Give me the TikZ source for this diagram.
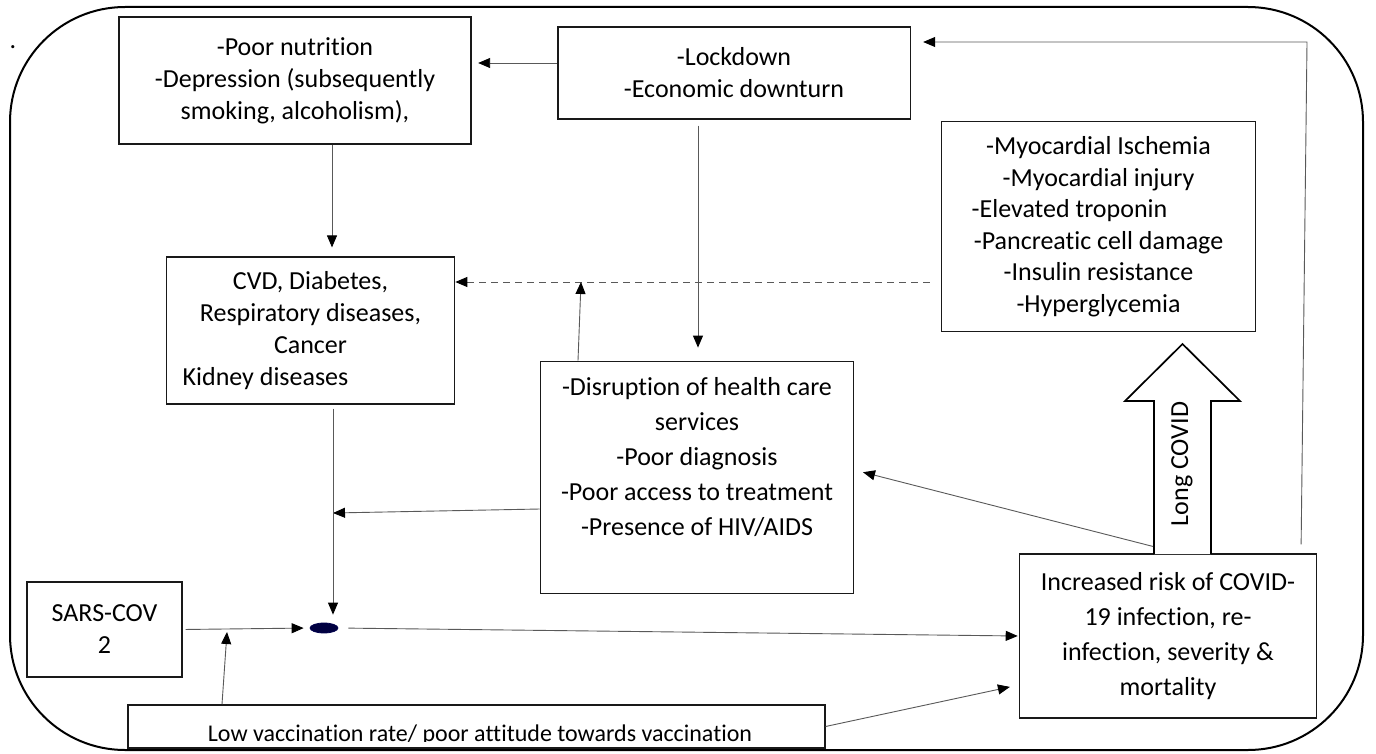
\documentclass[tikz,border=0pt]{standalone}
\usepackage{fontspec}
\setmainfont{Carlito}[Ligatures=NoCommon]
\usetikzlibrary{arrows.meta,shapes.geometric,calc}
\begin{document}
\begin{tikzpicture}[x=1bp,y=-1bp,
  box/.style={draw=black!90, line width=1.7bp, inner sep=0pt, align=center},
  txt/.style={align=center, inner sep=0pt},
  conn/.style={draw=black!65, line width=0.9bp, -{Triangle[length=12bp,width=10bp,black]}},
  fs/.style={font=\fontsize{26bp}{#1}\selectfont},
]
\useasboundingbox (0,0) rectangle (1376,753);
\fill[white] (0,0) rectangle (1376,753);
% outer frame
\draw[line width=2bp, rounded corners=115bp] (10,7) rectangle (1363,750);
\node[fs=32bp, anchor=base, inner sep=0pt] (mark) at (13,49) {.};

% boxes
\node[box, fs=32bp, minimum width=354, minimum height=127] (nut) at (295,80.5)
  {-Poor nutrition\\-Depression (subsequently\\smoking, alcoholism),};
\node[box, fs=32bp, minimum width=354, minimum height=92] (lock) at (734,73)
  {-Lockdown\\-Economic downturn};
\node[box, fs=31.5bp, minimum width=315, minimum height=211] (myo) at (1098.5,226.5)
  {-Myocardial Ischemia\\-Myocardial injury\\-Elevated troponin\rule{58bp}{0pt}\\-Pancreatic cell damage\\-Insulin resistance\\-Hyperglycemia};
\node[box, fs=32bp, minimum width=289, minimum height=147] (cvd) at (310.5,330.5)
  {CVD, Diabetes,\\Respiratory diseases,\\Cancer\\Kidney diseases\rule{90bp}{0pt}};
\node[box, minimum width=314, minimum height=233] (dis) at (697,477.5) {};
\node[txt, fs=35bp] (distext) at (697,457)
  {-Disruption of health care\\services\\-Poor diagnosis\\-Poor access to treatment\\-Presence of HIV/AIDS};
\node[box, fs=32bp, minimum width=155, minimum height=95] (sars) at (104.5,629.5)
  {SARS-COV\\2};
\node[box, minimum width=699, minimum height=43] (vac) at (476.5,726.5) {};
\begin{scope}
  \clip (127,705) rectangle (826,741);
  \node[txt, font=\fontsize{24bp}{32bp}\selectfont, anchor=base] (vactext) at (480,741)
    {Low vaccination rate/ poor attitude towards vaccination};
\end{scope}
\node[box, fs=35bp, minimum width=298, minimum height=164] (inc) at (1168,636)
  {Increased risk of COVID-\\19 infection, re-\\infection, severity \&\\mortality};
\node[ellipse, draw=blue!30!black, fill=blue!25!black, line width=0.8bp,
      minimum width=28, minimum height=10, inner sep=0pt] (dot) at (324,628) {};

% Long COVID hollow arrow
\draw[line width=1.7bp, fill=white, line join=miter]
  (1154,554) -- (1154,401) -- (1125,401) -- (1182.5,344) -- (1240,401) -- (1211,401) -- (1211,554);
\node[txt, fs=32bp, rotate=90] (long) at (1182,464) {Long COVID};

% helper coordinates
\coordinate (dj) at (581,282);
\coordinate (vj) at (333,513);
\coordinate (vu) at (227,632);
\coordinate (lc) at (1307,42);

% connectors
\draw[conn, shorten >=6bp] ([yshift=10bp]lock.west) -- ([yshift=10bp]lock.west -| nut.east);
\draw[conn, shorten <=6bp, shorten >=13bp] ([xshift=-36bp]lock.south) -- ([xshift=-36bp]lock.south |- dis.north);
\draw[conn, shorten >=9bp] ([xshift=37bp]nut.south) -- ([xshift=37bp]nut.south |- cvd.north);
\draw[conn, dashed, dash pattern=on 7bp off 5bp, shorten <=11bp] ([yshift=-55.5bp]myo.west) -- ([yshift=-55.5bp]myo.west -| cvd.east);
\draw[conn] ([xshift=-119bp]dis.north) -- (dj);
\draw[conn] ([yshift=-31.5bp]dis.west) -- (vj);
\draw[conn, shorten <=4bp, shorten >=8bp] ([xshift=22.5bp]cvd.south) -- ([xshift=22.5bp]cvd.south |- dot.north);
\draw[conn, shorten <=3bp, shorten >=6bp] (sars.east) -- (dot.west);
\draw[conn] ([xshift=-254.5bp]vac.north) -- (vu);
\draw[conn, shorten <=10bp, shorten >=1bp] (dot.east) -- (inc.west);
\draw[conn, shorten >=9bp] ([yshift=0bp]vac.east) -- ([yshift=-49bp]inc.west);
\draw[conn, shorten >=9bp] ([xshift=-15bp,yshift=7bp]inc.north) -- ([yshift=7.5bp]dis.east);
\draw[conn, shorten <=9bp, shorten >=12bp] ([xshift=133bp]inc.north) -- (lc) -- (lc -| lock.east);
\end{tikzpicture}
\end{document}
